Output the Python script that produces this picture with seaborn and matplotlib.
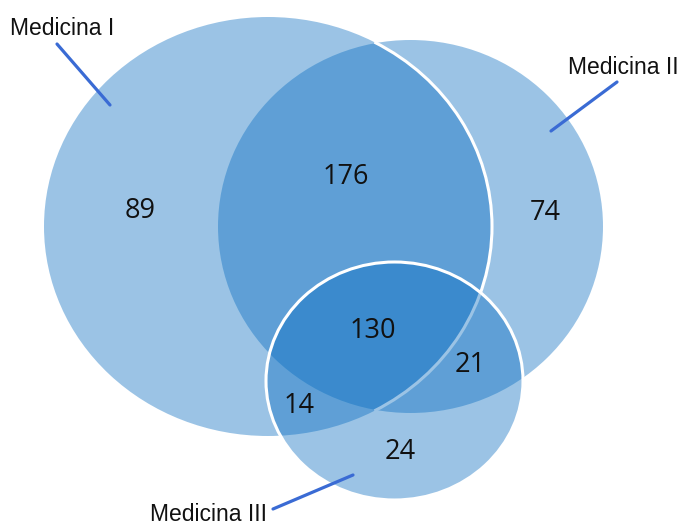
import matplotlib
matplotlib.use("Agg")
import matplotlib.pyplot as plt
from matplotlib import font_manager
from matplotlib.patches import Ellipse, Arc
import seaborn as sns

# Set names and exclusive region counts of the three-set Venn diagram
set_names = ["Medicina I", "Medicina II", "Medicina III"]
region_keys = ["100", "110", "010", "111", "011", "101", "001"]
region_counts = [89, 176, 74, 130, 21, 14, 24]

sns.set_theme(style="white")
plt.rcParams["font.family"] = ["Open Sans", "DejaVu Sans"]

base_rgb = (5 / 255, 107 / 255, 192 / 255)
fill = (*base_rgb, 0.40)
leader_color = "#3A6BD4"

# Narrow sans for the set names when available, otherwise a smaller regular sans
try:
    font_manager.findfont(font_manager.FontProperties(family="Liberation Sans Narrow"),
                          fallback_to_default=False)
    name_font, name_size = ["Liberation Sans Narrow"], 20
except ValueError:
    name_font, name_size = ["Liberation Sans", "DejaVu Sans"], 16.5

fig = plt.figure(figsize=(6.81, 5.27), dpi=100)
ax = fig.add_axes([0, 0, 1, 1])
ax.set_xlim(0, 681)
ax.set_ylim(527, 0)
ax.set_axis_off()

# Ellipse geometry (centre x, centre y, width, height) in pixel-like units
geom = {
    "Medicina I": (268, 226.5, 448, 419),
    "Medicina II": (410.5, 226.5, 385, 373),
    "Medicina III": (394.5, 381, 257, 238),
}

g1, g2, g3 = (geom[n] for n in set_names)
ax.add_patch(Ellipse(g2[:2], g2[2], g2[3], facecolor=fill, edgecolor="none", zorder=1))
ax.add_patch(Ellipse(g1[:2], g1[2], g1[3], facecolor=fill, edgecolor="none", zorder=2))
# white rim of the first set where it crosses the second
ax.add_patch(Arc(g1[:2], g1[2], g1[3], theta1=-60, theta2=60,
                 edgecolor="white", linewidth=2.2, zorder=3))
ax.add_patch(Ellipse(g3[:2], g3[2], g3[3], facecolor=fill, edgecolor="none", zorder=4))
ax.add_patch(Ellipse(g3[:2], g3[2], g3[3], facecolor="none", edgecolor="white",
                     linewidth=2.2, zorder=5))

# Region count labels
label_pos = {
    "100": (140, 211),
    "110": (346, 177),
    "010": (545, 213),
    "111": (373, 331),
    "011": (470, 365),
    "101": (299, 406),
    "001": (400, 452),
}
for key, count in zip(region_keys, region_counts):
    x, y = label_pos[key]
    ax.text(x, y, str(count), ha="center", va="center", fontsize=19.5,
            color="#111111", zorder=6)

# Set name labels with leader lines
name_pos = {
    "Medicina I": (10, 35, "left"),
    "Medicina II": (679, 74, "right"),
    "Medicina III": (150, 521, "left"),
}
leaders = {
    "Medicina I": ((57, 110), (44, 105)),
    "Medicina II": ((617, 551), (82, 131)),
    "Medicina III": ((353, 273), (475, 509)),
}
for name in set_names:
    x, y, ha = name_pos[name]
    ax.text(x, y, name, ha=ha, va="baseline", fontsize=name_size,
            family=name_font, color="#111111", zorder=6)
    xs, ys = leaders[name]
    ax.plot(xs, ys, color=leader_color, linewidth=2.3,
            solid_capstyle="round", zorder=6)

fig.savefig("out.png", dpi=100, facecolor="white")
